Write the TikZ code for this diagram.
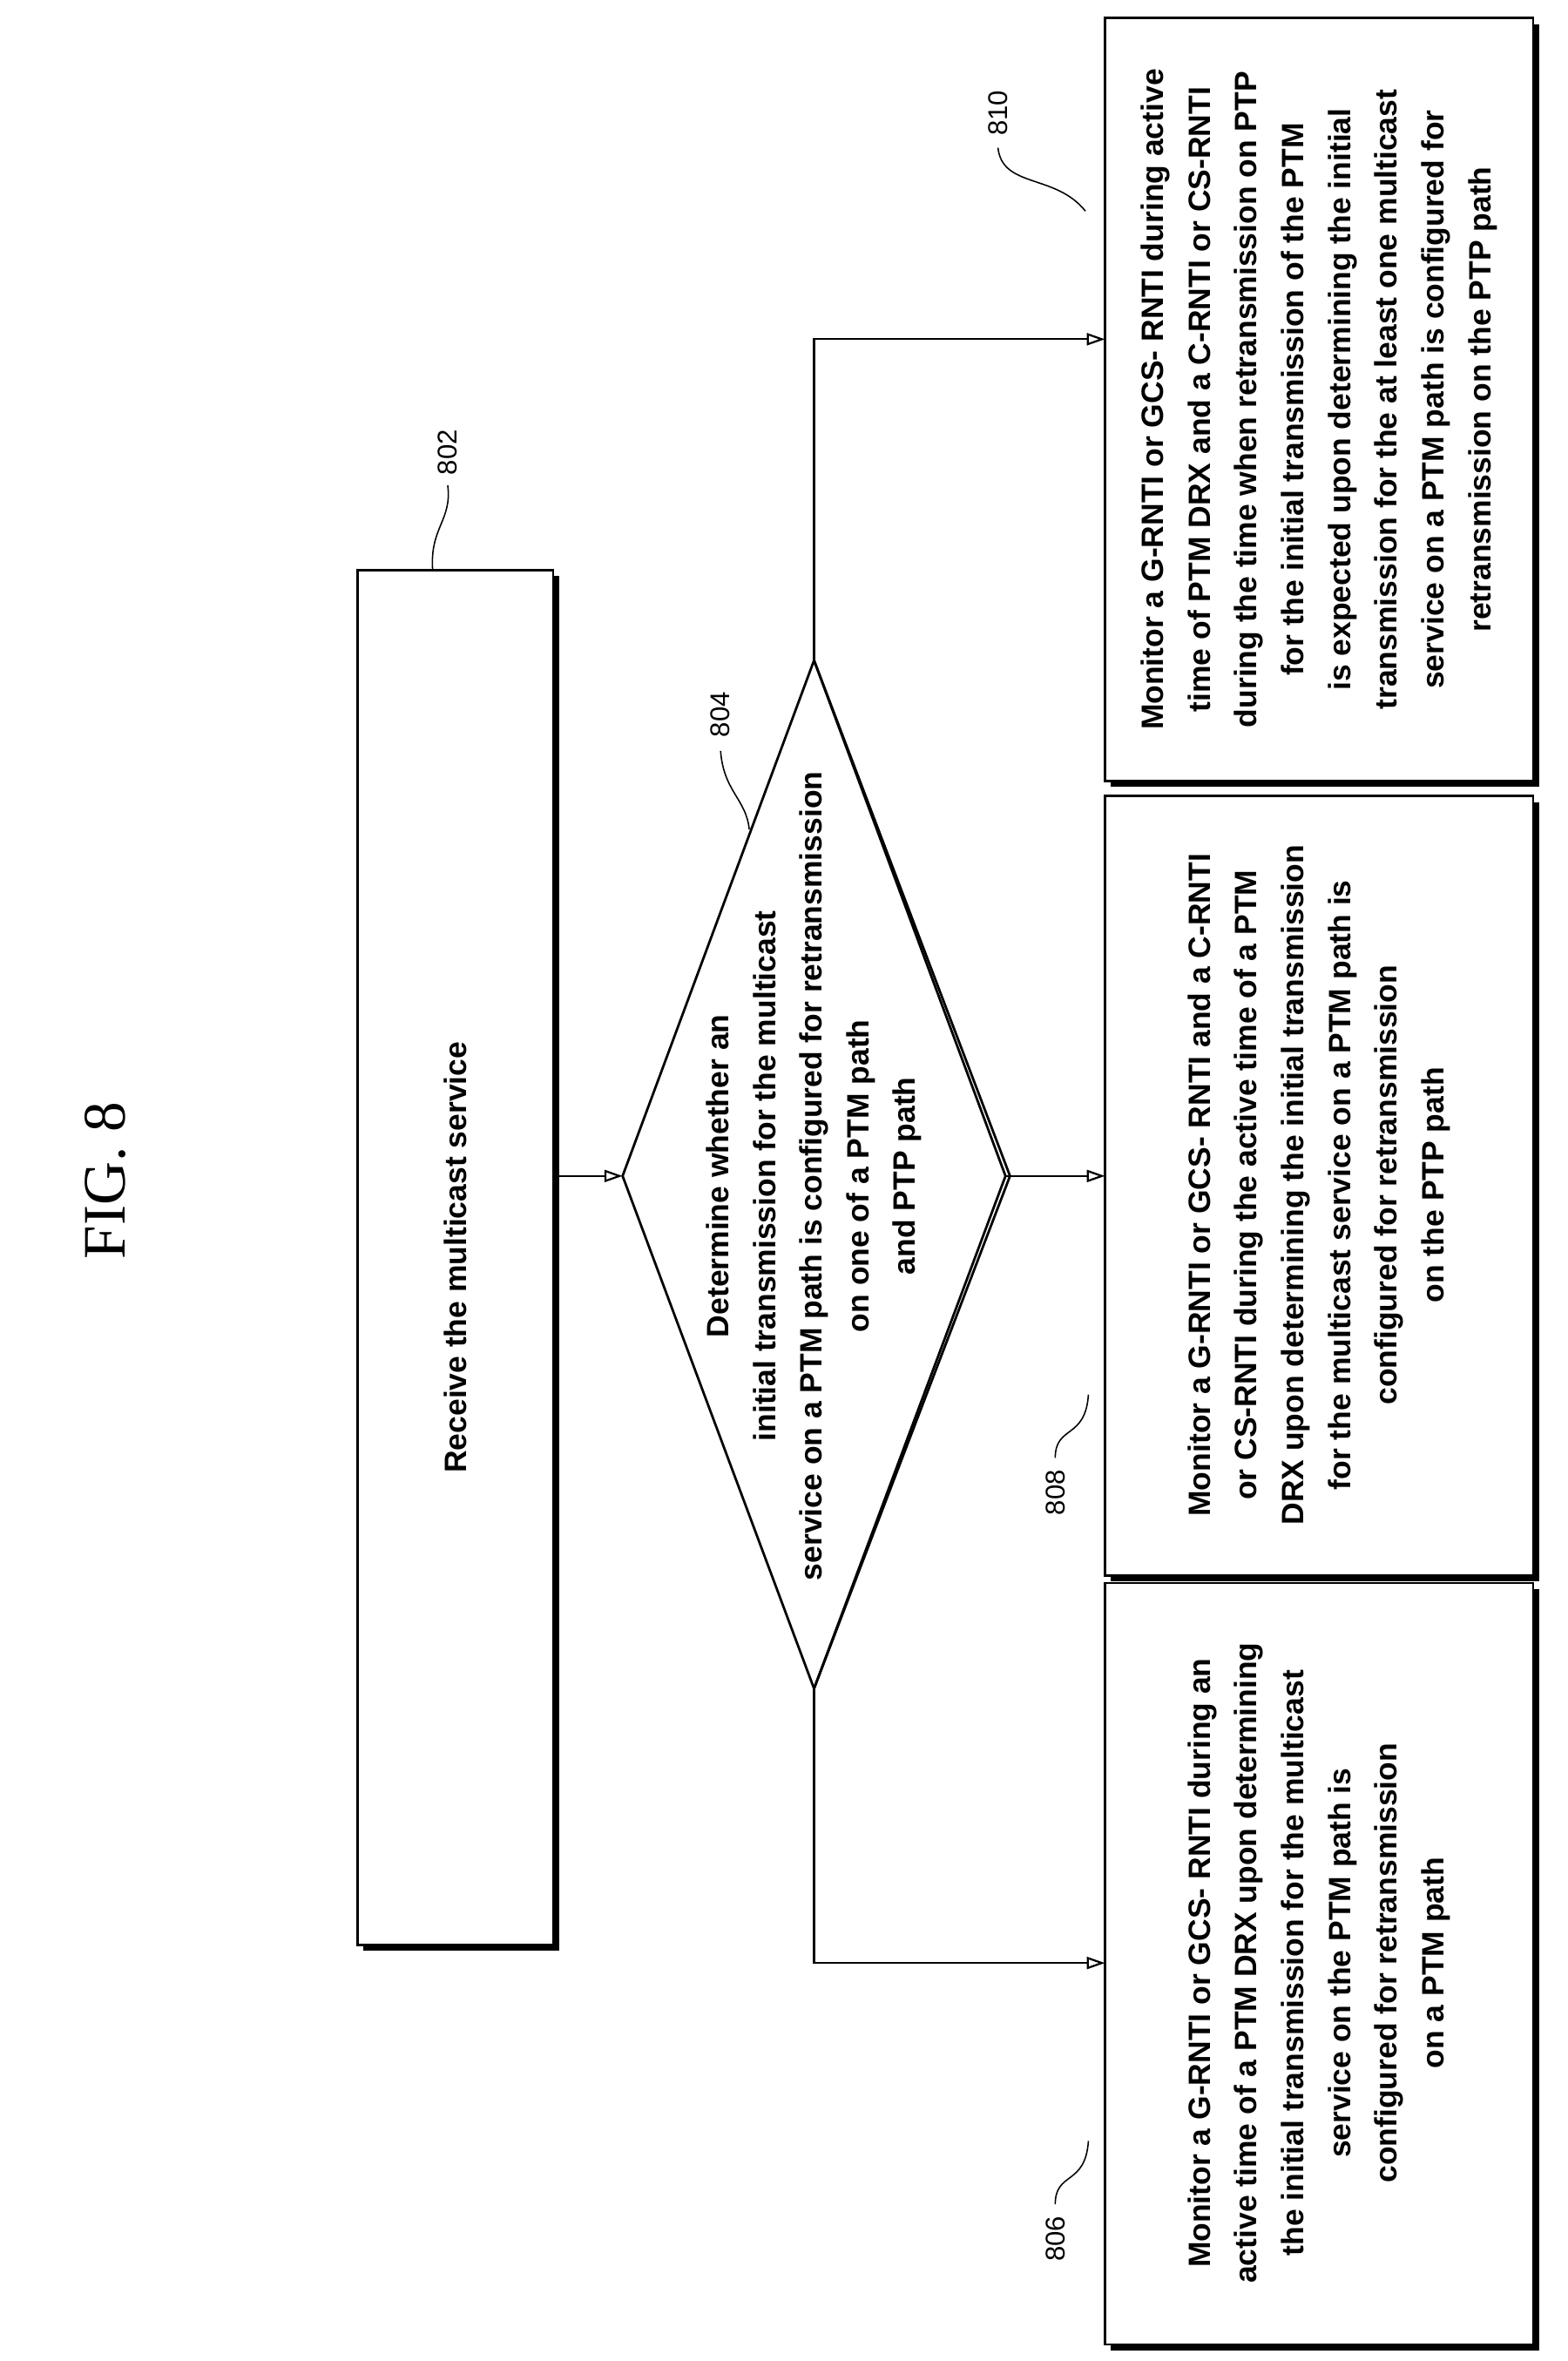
\documentclass[tikz,border=0pt]{standalone}
\usepackage{fontspec}
\setmainfont{Liberation Sans}
\newfontfamily\figfont{Liberation Serif}
\usetikzlibrary{arrows.meta}
\begin{document}
\begin{tikzpicture}[x=1pt,y=-1pt,
  txt/.style={rotate=90,align=center,font=\bfseries\fontsize{20.5}{31}\selectfont},
  boxs/.style={draw,line width=1.6pt},
  lbl/.style={rotate=90,font=\fontsize{18}{20}\selectfont},
  arr/.style={line width=1.3pt,-{Triangle[length=12pt,width=8pt,open]}},
  lead/.style={line width=0.9pt}]
\useasboundingbox (0,0) rectangle (1040,1566);
\node[rotate=90,font=\figfont\fontsize{40}{40}\selectfont] (fig) at (70,783) {FIG. 8};
% shadows
\foreach \a/\b/\c/\d in {237/378/367/1290,733/1050/1017/1555,733/528/1017/1045,733/12/1017/518}
  \fill (\a+4,\b+4) rectangle (\c+4,\d+4);
\draw[boxs,fill=white] (237,378) rectangle (367,1290);
\node[txt] (b802) at (302,834) {Receive the multicast service};
\coordinate (b802r) at (367,780);
\draw[boxs,fill=white] (733,1050) rectangle (1017,1555);
\node[txt] (b806) at (875,1302) {Monitor a G-RNTI or GCS- RNTI during an\\active time of a PTM DRX upon determining\\the initial transmission for the multicast\\service on the PTM path is\\configured for retransmission\\on a PTM path};
\draw[boxs,fill=white] (733,528) rectangle (1017,1045);
\node[txt] (b808) at (875,786) {Monitor a G-RNTI or GCS- RNTI and a C-RNTI\\or CS-RNTI during the active time of a PTM\\DRX upon determining the initial transmission\\for the multicast service on a PTM path is\\configured for retransmission\\on the PTP path};
\draw[boxs,fill=white] (733,12) rectangle (1017,518);
\node[txt] (b810) at (875,265) {Monitor a G-RNTI or GCS- RNTI during active\\time of PTM DRX and a C-RNTI or CS-RNTI\\during the time when retransmission on PTP\\for the initial transmission of the PTM\\is expected upon determining the initial\\transmission for the at least one multicast\\service on a PTM path is configured for\\retransmission on the PTP path};
% diamond
\coordinate (dt) at (540,438); \coordinate (db) at (540,1120);
\coordinate (dl) at (413,780); \coordinate (dr) at (667,780);
\draw[line width=1.6pt] (dt)--(dr)--(db)--(dl)--cycle;
\draw[line width=1.6pt] (dt)--([xshift=3pt]dr)--(db);
\node[txt] (d804) at (540,780) {Determine whether an\\initial transmission for the multicast\\service on a PTM path is configured for retransmission\\on one of a PTM path\\and PTP path};
% arrows
\draw[arr] (b802r) -- (dl);
\draw[arr] (dr) -- (733,780);
\draw[arr] (db) |- (733,1302);
\draw[arr] (dt) |- (733,225);
% labels
\node[lbl] (l802) at (297,300) {802};
\draw[lead] (297,322) .. controls (300,345) and (285,350) .. (287,378);
\node[lbl] (l804) at (478,474) {804};
\draw[lead] (478,498) .. controls (480,525) and (495,530) .. (497,550);
\node[lbl] (l806) at (700,1485) {806};
\draw[lead] (700,1462) .. controls (700,1440) and (720,1450) .. (722,1420);
\node[lbl] (l808) at (700,990) {808};
\draw[lead] (700,967) .. controls (700,945) and (720,955) .. (722,925);
\node[lbl] (l810) at (662,75) {810};
\draw[lead] (662,98) .. controls (665,125) and (700,115) .. (720,140);
\end{tikzpicture}
\end{document}
